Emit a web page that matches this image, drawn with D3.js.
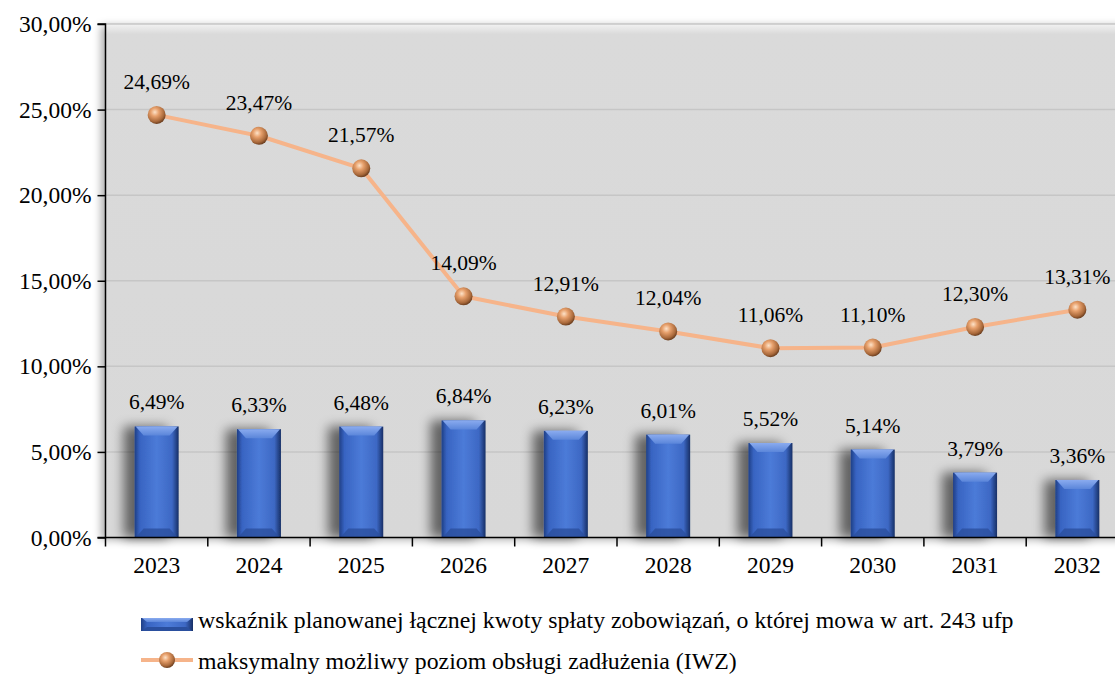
<!DOCTYPE html>
<html>
<head>
<meta charset="utf-8">
<script src="https://cdn.jsdelivr.net/npm/d3@7"></script>
<style>
  body { margin: 0; background: #fff; }
  svg { display: block; font-family: "Liberation Serif", serif; }
</style>
</head>
<body>
<div id="chart"></div>
<script>
// data
const years = ["2023", "2024", "2025", "2026", "2027", "2028", "2029", "2030", "2031", "2032"];
const barValues = [6.49, 6.33, 6.48, 6.84, 6.23, 6.01, 5.52, 5.14, 3.79, 3.36];
const lineValues = [24.69, 23.47, 21.57, 14.09, 12.91, 12.04, 11.06, 11.10, 12.30, 13.31];
const yTicks = [0, 5, 10, 15, 20, 25, 30];
const legendLabels = [
  "wskaźnik planowanej łącznej kwoty spłaty zobowiązań, o której mowa w art. 243 ufp",
  "maksymalny możliwy poziom obsługi zadłużenia (IWZ)"
];

const width = 1115;
const height = 675;
const fontFam = "Liberation Serif";
const fmt = v => v.toFixed(2).replace(".", ",") + "%";

const svg = d3.select("#chart").append("svg")
  .attr("width", width)
  .attr("height", height)
  .attr("font-family", fontFam);

const defs = svg.append("defs");

// bar body gradient
const barGrad = defs.append("linearGradient").attr("id", "barGrad")
  .attr("x1", 0).attr("x2", 1).attr("y1", 0).attr("y2", 0);
[[0, "#1f3f86"], [0.12, "#3864c2"], [0.5, "#4c7bd8"], [0.85, "#3d68c4"], [1, "#172f66"]]
  .forEach(([o, c]) => barGrad.append("stop").attr("offset", o).attr("stop-color", c));

const topGrad = defs.append("linearGradient").attr("id", "topGrad")
  .attr("x1", 0).attr("x2", 0).attr("y1", 0).attr("y2", 1);
topGrad.append("stop").attr("offset", 0).attr("stop-color", "#8aabef");
topGrad.append("stop").attr("offset", 1).attr("stop-color", "#5b86da");

// sphere markers
const ball = defs.append("radialGradient").attr("id", "ball")
  .attr("cx", 0.4).attr("cy", 0.35).attr("r", 0.65);
[[0, "#fde2c8"], [0.35, "#e7a06c"], [0.8, "#a8683a"], [1, "#6e4020"]]
  .forEach(([o, c]) => ball.append("stop").attr("offset", o).attr("stop-color", c));

// plot background
const bgGrad = defs.append("linearGradient").attr("id", "bgGrad")
  .attr("x1", 0).attr("x2", 0).attr("y1", 0).attr("y2", 1);
bgGrad.append("stop").attr("offset", 0).attr("stop-color", "#f2f2f2");
bgGrad.append("stop").attr("offset", 0.02).attr("stop-color", "#dadada");
bgGrad.append("stop").attr("offset", 1).attr("stop-color", "#d8d8d8");

const shadow = defs.append("filter").attr("id", "barShadow")
  .attr("x", "-80%").attr("y", "-20%").attr("width", "220%").attr("height", "140%");
shadow.append("feGaussianBlur").attr("in", "SourceAlpha").attr("stdDeviation", 6);
shadow.append("feOffset").attr("dx", -11).attr("dy", 0).attr("result", "b");
shadow.append("feComponentTransfer").append("feFuncA").attr("type", "linear").attr("slope", 0.55);
const sm = shadow.append("feMerge");
sm.append("feMergeNode");
sm.append("feMergeNode").attr("in", "SourceGraphic");

const plotShadow = defs.append("filter").attr("id", "plotShadow")
  .attr("x", "-5%").attr("y", "-5%").attr("width", "110%").attr("height", "110%");
plotShadow.append("feDropShadow").attr("dx", -4).attr("dy", 2)
  .attr("stdDeviation", 4).attr("flood-color", "#000").attr("flood-opacity", 0.35);

// scales
const x = d3.scaleBand().domain(years).range([105.5, 1128.5]);
const y = d3.scaleLinear().domain([0, 30]).range([537.5, 24]);
const cx = d => x(d) + x.bandwidth() / 2;

// plot area
svg.append("rect")
  .attr("x", x.range()[0]).attr("y", y(30))
  .attr("width", x.range()[1] - x.range()[0]).attr("height", y(0) - y(30))
  .attr("fill", "url(#bgGrad)")
  .attr("filter", "url(#plotShadow)");

// gridlines
svg.append("g").selectAll("line")
  .data(yTicks.filter(t => t > 0))
  .join("line")
  .attr("x1", x.range()[0]).attr("x2", x.range()[1])
  .attr("y1", d => y(d)).attr("y2", d => y(d))
  .attr("stroke", "#c6c6c6")
  .attr("stroke-width", 1.5);

// bars
const barW = 44;
const bevel = 9;
const bars = svg.append("g").selectAll("g")
  .data(years.map((yr, i) => ({ yr, v: barValues[i] })))
  .join("g");

bars.append("rect")
  .attr("x", d => cx(d.yr) - barW / 2)
  .attr("y", d => y(d.v))
  .attr("width", barW)
  .attr("height", d => y(0) - y(d.v))
  .attr("fill", "url(#barGrad)")
  .attr("filter", "url(#barShadow)");

bars.append("polygon")
  .attr("points", d => {
    const l = cx(d.yr) - barW / 2, r = l + barW, t = y(d.v);
    return [[l + 1, t], [r - 1, t], [r - bevel, t + bevel], [l + bevel, t + bevel]].join(" ");
  })
  .attr("fill", "url(#topGrad)");

bars.append("polygon")
  .attr("points", d => {
    const l = cx(d.yr) - barW / 2, r = l + barW, b = y(0);
    return [[l + 1, b], [r - 1, b], [r - bevel, b - bevel], [l + bevel, b - bevel]].join(" ");
  })
  .attr("fill", "#2a4f9e")
  .attr("opacity", 0.8);

bars.append("text")
  .attr("x", d => cx(d.yr))
  .attr("y", d => y(d.v) - 17)
  .attr("text-anchor", "middle")
  .attr("font-size", 21.5)
  .attr("fill", "#000")
  .text(d => fmt(d.v));

// line series
const pts = years.map((yr, i) => ({ yr, v: lineValues[i] }));
const line = d3.line()
  .x(d => cx(d.yr))
  .y(d => y(d.v));

svg.append("path")
  .datum(pts)
  .attr("d", line)
  .attr("fill", "none")
  .attr("stroke", "#f6b48a")
  .attr("stroke-width", 4)
  .attr("stroke-linejoin", "round");

svg.append("g").selectAll("circle")
  .data(pts)
  .join("circle")
  .attr("cx", d => cx(d.yr))
  .attr("cy", d => y(d.v))
  .attr("r", 9)
  .attr("fill", "url(#ball)");

svg.append("g").selectAll("text")
  .data(pts)
  .join("text")
  .attr("x", d => cx(d.yr))
  .attr("y", d => y(d.v) - 26)
  .attr("text-anchor", "middle")
  .attr("font-size", 21.5)
  .attr("fill", "#000")
  .text(d => fmt(d.v));

// axes
const yAxis = svg.append("g")
  .attr("transform", `translate(${x.range()[0]},0)`)
  .call(d3.axisLeft(y).tickValues(yTicks).tickSize(8).tickPadding(6)
    .tickFormat(fmt));
yAxis.attr("font-family", fontFam);
yAxis.select(".domain").attr("stroke", "#000").attr("stroke-width", 1.5)
  .attr("d", `M-8,${y(30)}H0V${y(0)}H-8`);
yAxis.selectAll(".tick line").attr("stroke", "#000").attr("stroke-width", 1.5);
yAxis.selectAll("text").attr("font-size", 23.5).attr("fill", "#000");

const xAxis = svg.append("g")
  .attr("transform", `translate(0,${y(0)})`);
xAxis.append("line")
  .attr("x1", x.range()[0]).attr("x2", width)
  .attr("stroke", "#000").attr("stroke-width", 1.5);
xAxis.selectAll(".tk")
  .data(years)
  .join("line")
  .attr("class", "tk")
  .attr("x1", d => x(d)).attr("x2", d => x(d))
  .attr("y1", 0).attr("y2", 9)
  .attr("stroke", "#000").attr("stroke-width", 1.5);
xAxis.selectAll("text")
  .data(years)
  .join("text")
  .attr("x", d => cx(d))
  .attr("y", 35)
  .attr("text-anchor", "middle")
  .attr("font-size", 23.5)
  .attr("fill", "#000")
  .text(d => d);

// legend
const lg = svg.append("g");
const l1 = lg.append("g").attr("transform", "translate(141,618)");
l1.append("rect").attr("width", 52).attr("height", 13).attr("fill", "url(#barGrad)");
l1.append("polygon").attr("points", "1,0 51,0 46,4 6,4").attr("fill", "url(#topGrad)");
l1.append("polygon").attr("points", "1,13 51,13 46,9 6,9").attr("fill", "#2a4f9e");
lg.append("text").attr("x", 198).attr("y", 628).attr("font-size", 23.8).text(legendLabels[0]);

const l2 = lg.append("g").attr("transform", "translate(141,660)");
l2.append("line").attr("x1", 0).attr("x2", 52).attr("stroke", "#f6b48a").attr("stroke-width", 4);
l2.append("circle").attr("cx", 26).attr("r", 8).attr("fill", "url(#ball)");
lg.append("text").attr("x", 198).attr("y", 669).attr("font-size", 23.8).text(legendLabels[1]);
</script>
</body>
</html>
